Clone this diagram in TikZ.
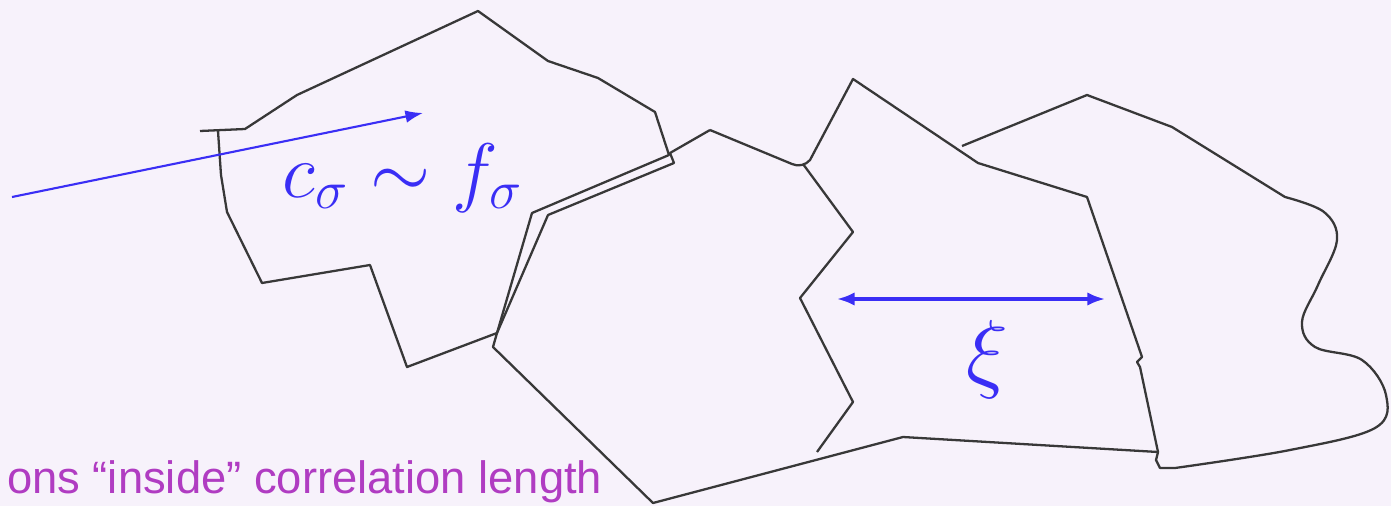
\RequirePackage{fix-cm}
\documentclass[tikz,border=0pt]{standalone}
\usepackage{fontspec}
\newfontfamily\slidefont{Liberation Sans}
\definecolor{paperlilac}{HTML}{F7F2FB}
\definecolor{grainline}{HTML}{383838}
\definecolor{slideblue}{HTML}{3A2EF5}
\definecolor{slidepurple}{HTML}{B03CC2}
\usetikzlibrary{arrows.meta}

\begin{document}
\begin{tikzpicture}[
  x=0.01cm, y=-0.01cm,
  grain/.style={draw=grainline, line width=0.65pt, line join=round},
  bluearrow/.style={draw=slideblue, line width=0.6pt, -{Latex[length=5pt,width=3.6pt]}},
  xiarrow/.style={draw=slideblue, line width=0.9pt,
    {Latex[length=5pt,width=3.8pt]}-{Latex[length=5pt,width=3.8pt]}},
  mathlabel/.style={text=slideblue, inner sep=0pt, anchor=base},
  note/.style={text=slidepurple, inner sep=0pt, anchor=base east,
    font=\slidefont\fontsize{12.9}{16}\selectfont}
]
  \fill[paperlilac] (0,0) rectangle (1391,506);
  \useasboundingbox (0,0) rectangle (1391,506);

  % domains
  \draw[grain] (200,131) -- (245,129) -- (297,95) -- (478,11) -- (548,61) -- (598,78)
    -- (655,112) -- (669,155) -- (532,213) -- (497,333) -- (407,367) -- (370,265)
    -- (262,283) -- (227,212) -- (221,175) -- (218,131);
  \draw[grain] (710,130) -- (670,153) -- (674,163) -- (548,215) -- (497,333) -- (493,347)
    -- (653,503) -- (903,437) -- (1158,452);
  \draw[grain] (710,130) -- (792,164) .. controls (798,167) and (806,165) .. (810,160)
    -- (853,79) -- (978,163) -- (1087,197) -- (1142,357) -- (1137,362) -- (1140,367)
    -- (1158,452);
  \draw[grain] (803,164) -- (853,232) -- (800,298) -- (853,402) -- (817,452);
  \draw[grain] (962,146) -- (1087,95) -- (1172,127) -- (1285,197)
    plot[smooth, tension=0.6] coordinates {(1285,197) (1324,212) (1337,240) (1318,285)
      (1302,322) (1315,347) (1362,360) (1386,395) (1375,428) (1290,450) (1175,468)}
    -- (1160,468) -- (1156,460) -- (1158,452);

  % arrows and labels
  \coordinate (inA) at (12,197);
  \coordinate (inB) at (423,113);
  \draw[bluearrow] (inA) -- (inB);
  \coordinate (xiL) at (837,299);
  \coordinate (xiR) at (1105,299);
  \draw[xiarrow] (xiL) -- (xiR);
  \node[mathlabel, font=\fontsize{22}{26}\selectfont] (csig) at (403,197) {$c_\sigma \sim f_\sigma$};
  \node[mathlabel, font=\fontsize{25}{30}\selectfont] (xi) at (987,381) {$\xi$};
  \node[note] (inside) at (603,493) {ons “inside” correlation length};
\end{tikzpicture}
\end{document}
